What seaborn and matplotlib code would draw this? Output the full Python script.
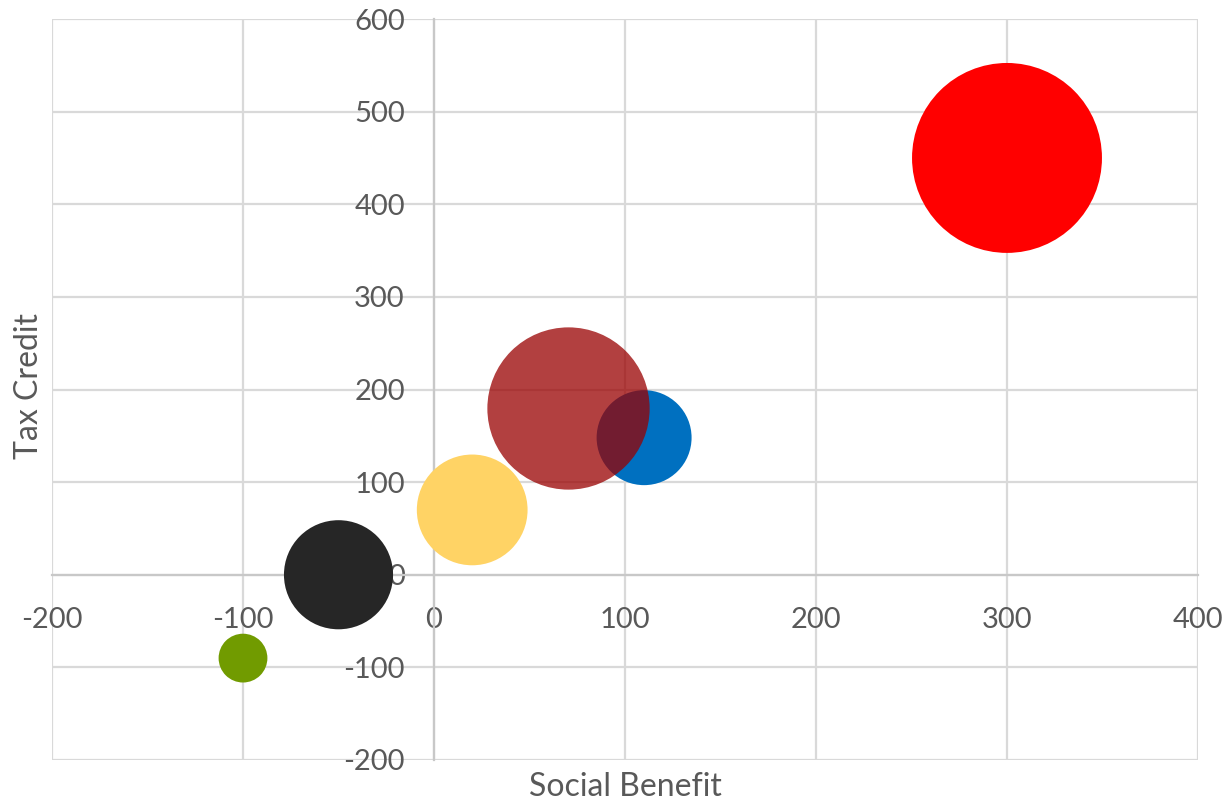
import matplotlib
matplotlib.use("Agg")
import matplotlib.pyplot as plt
import seaborn as sns
import pandas as pd
import numpy as np

# ---- data ----
names = ["Red", "Brown", "Blue", "Yellow", "Black", "Green"]
social_benefit = [300, 70, 110, 20, -50, -100]
tax_credit = [450, 180, 148, 70, 0, -90]
bubble_size = [100, 73, 25, 34, 33, 6.6]
colors = ["#FF0000", "#990000", "#0070C0", "#FFD365", "#262626", "#719B00"]
x_ticks = [-200, -100, 0, 100, 200, 300, 400]
y_ticks = [-200, -100, 0, 100, 200, 300, 400, 500, 600]

df = pd.DataFrame({"name": names, "x": social_benefit, "y": tax_credit,
                   "size": bubble_size})
palette = dict(zip(names, colors))

sns.set_theme(style="white")
plt.rcParams["font.family"] = ["Lato", "DejaVu Sans"]
plt.rcParams["axes.unicode_minus"] = False

fig = plt.figure(figsize=(12.31, 8.06), dpi=100)
ax = fig.add_axes([52 / 1231, 1 - 760 / 806, 1146 / 1231, 741 / 806])

max_area = 18700
common = dict(x="x", y="y", size="size", hue="name", palette=palette,
              sizes=(0, max_area), size_norm=(0, 100), legend=False,
              linewidth=0, ax=ax)

opaque = df[df["name"] != "Brown"]
translucent = df[df["name"] == "Brown"]
sns.scatterplot(data=opaque, zorder=3, **common)
sns.scatterplot(data=translucent, alpha=0.75, zorder=4, **common)

ax.set_xlim(-200, 400)
ax.set_ylim(-200, 600)
ax.set_xticks(x_ticks)
ax.set_yticks(y_ticks)

grid_color = "#D9D9D9"
ax.grid(True, color=grid_color, linewidth=1.6, zorder=0)
for gl in ax.get_xgridlines() + ax.get_ygridlines():
    gl.set_clip_on(False)
ax.set_axisbelow(True)

for side in ["top", "right"]:
    ax.spines[side].set_visible(False)
ax.spines["left"].set_position(("data", 0))
ax.spines["bottom"].set_position(("data", 0))
for side in ["left", "bottom"]:
    ax.spines[side].set_color("#C8C8C8")
    ax.spines[side].set_linewidth(1.6)
    ax.spines[side].set_zorder(1)

text_color = "#595959"
ax.tick_params(axis="both", length=0, labelsize=21, labelcolor=text_color)
ax.tick_params(axis="x", pad=23)
ax.tick_params(axis="y", pad=21)

ax.set_xlabel("Social Benefit", fontsize=23, color=text_color)
ax.set_ylabel("Tax Credit", fontsize=23, color=text_color)
ax.xaxis.set_label_coords(0.5, -0.016)
ax.yaxis.set_label_coords(-0.007, 0.505)

fig.savefig("out.png", dpi=100, facecolor="white")
